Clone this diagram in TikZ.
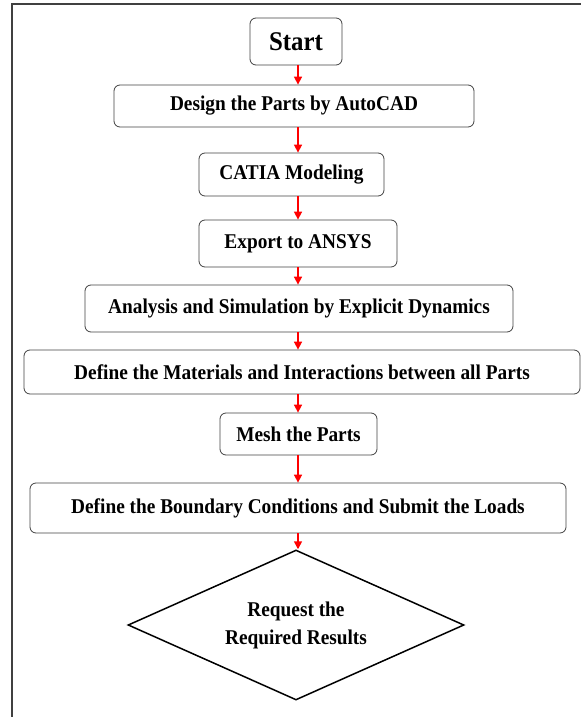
\documentclass[tikz,border=0pt]{standalone}
\usepackage{fontspec}
\setmainfont{Liberation Serif}[FakeStretch=0.92]
\usetikzlibrary{shapes.geometric,arrows.meta}

\tikzset{
  stepbox/.style={draw=black!75, rounded corners=6pt, line width=0.8pt,
    font=\bfseries\fontsize{21}{25}\selectfont, inner sep=0pt},
  results/.style={draw, diamond, line width=1.5pt, aspect=2.24,
    minimum width=336pt, minimum height=150pt, inner sep=0pt,
    align=center, font=\bfseries\fontsize{21}{28}\selectfont},
  flow/.style={red, line width=1.6pt, -{Triangle[length=8pt,width=8pt]}}
}

\begin{document}
\begin{tikzpicture}[x=1pt,y=-1pt]
\useasboundingbox (0,0) rectangle (581,717);
\draw[black!75, line width=1.6pt] (12,717) -- (12,4) -- (581,4);

\node[stepbox, font=\bfseries\fontsize{27}{30}\selectfont,
      minimum width=92pt, minimum height=47pt] (start) at (296,41.5) {Start};
\node[stepbox, minimum width=360pt, minimum height=42pt] (design) at (294,106) {Design the Parts by AutoCAD};
\node[stepbox, minimum width=185pt, minimum height=43pt] (catia) at (291.5,174.5) {CATIA Modeling};
\node[stepbox, minimum width=198pt, minimum height=47pt] (export) at (298,243.5) {Export to ANSYS};
\node[stepbox, minimum width=428pt, minimum height=47pt] (analysis) at (299,308.5) {Analysis and Simulation by Explicit Dynamics};
\node[stepbox, minimum width=556pt, minimum height=44pt] (materials) at (302,372) {Define the Materials and Interactions between all Parts};
\node[stepbox, minimum width=157pt, minimum height=42pt] (mesh) at (298.5,434) {Mesh the Parts};
\node[stepbox, minimum width=536pt, minimum height=50pt] (boundary) at (298,508) {Define the Boundary Conditions and Submit the Loads};
\node[results] (request) at (296,625) {Request the\\Required Results};

% arrows all on one vertical line
\coordinate (axis) at (298,0);
\foreach \a/\b in {start/design, design/catia, catia/export, export/analysis,
  analysis/materials, materials/mesh, mesh/boundary, boundary/request}
  \draw[flow] (\a.south -| axis) -- (\b.north -| axis);
\end{tikzpicture}
\end{document}
